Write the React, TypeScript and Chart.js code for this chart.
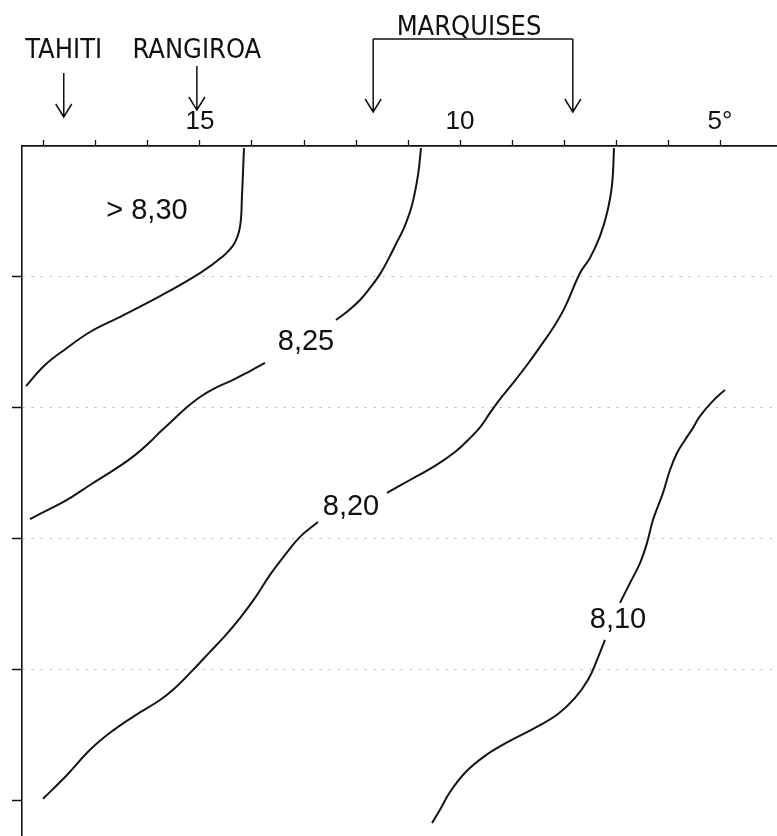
import React, { useEffect, useRef } from 'react';
import { Chart, registerables } from 'chart.js';

Chart.register(...registerables);

// ---- axis values ----
const xTickValues = [18, 17, 16, 15, 14, 13, 12, 11, 10, 9, 8, 7, 6, 5];
const xLabelValues = [15, 10, 5];
const xLabelText = ['15', '10', '5°'];
const yTickValues = [50, 100, 150, 200, 250];
const yGridValues = [50, 100, 150, 200];
const latMin = 3.904;
const latMax = 18.423;
const depthMax = 263.4;

// ---- contour 8.30 ----
const c830Lat = [14.154, 14.192, 14.231, 14.346, 14.577, 15.0, 15.769, 16.577, 17.115, 17.558, 17.981, 18.346];
const c830Depth = [0.8, 18.7, 30.9, 37.4, 42.4, 48.5, 57.3, 65.6, 71.0, 77.1, 83.6, 91.6];

// ---- contour 8.25 (two pieces around its label) ----
const c825aLat = [10.75, 10.808, 10.923, 11.077, 11.212, 11.365, 11.538, 11.731, 11.923, 12.154, 12.385];
const c825aDepth = [0.8, 11.1, 22.5, 31.3, 36.6, 42.7, 48.9, 54.2, 58.8, 63.0, 66.4];
const c825bLat = [13.75, 14.038, 14.365, 14.712, 15.0, 15.269, 15.519, 15.769, 15.962, 16.25, 16.596, 17.115, 17.558, 17.923, 18.269];
const c825bDepth = [82.8, 85.9, 89.3, 92.4, 95.8, 100.0, 104.6, 109.2, 113.0, 118.0, 122.9, 129.4, 135.1, 138.9, 142.4];

// ---- contour 8.20 ----
const c820aLat = [7.038, 7.077, 7.173, 7.308, 7.5, 7.692, 7.981, 8.212, 8.462, 8.712, 8.981, 9.231, 9.423, 9.596, 9.808, 10.096, 10.481, 10.962, 11.404];
const c820aDepth = [0.8, 14.9, 25.6, 34.4, 42.7, 48.5, 61.5, 69.5, 76.7, 83.6, 90.5, 96.6, 101.9, 106.9, 111.5, 116.8, 122.1, 127.5, 132.4];
const c820bLat = [12.731, 13.077, 13.365, 13.654, 13.942, 14.231, 14.519, 14.808, 15.135, 15.481, 15.769, 16.288, 16.731, 17.115, 17.558, 18.019];
const c820bDepth = [143.5, 149.2, 156.1, 163.7, 172.5, 180.2, 187.0, 193.1, 200.0, 206.9, 211.5, 217.9, 224.0, 230.5, 240.1, 249.2];

// ---- contour 8.10 ----
const c810aLat = [4.904, 5.135, 5.385, 5.519, 5.673, 5.827, 5.962, 6.096, 6.288, 6.404, 6.538, 6.731, 6.923];
const c810aDepth = [93.1, 97.3, 103.1, 107.6, 112.2, 117.2, 123.7, 132.4, 142.7, 151.5, 159.2, 166.8, 174.4];
const c810bLat = [7.212, 7.365, 7.538, 7.788, 8.115, 8.558, 9.077, 9.519, 9.885, 10.192, 10.385, 10.538];
const c810bDepth = [188.5, 196.2, 203.8, 210.7, 216.8, 222.1, 227.5, 232.8, 238.9, 246.6, 253.4, 258.4];

// ---- contour labels ----
const contourLabelText = ['> 8,30', '8,25', '8,20', '8,10'];
const contourLabelLat = [16.02, 12.962, 12.096, 6.962];
const contourLabelDepth = [24.8, 74.8, 137.8, 180.9];

// ---- island annotations ----
const islandNames = ['TAHITI', 'RANGIROA'];
const islandLat = [17.62, 15.06];
const marquisesName = 'MARQUISES';
const marquisesLat = [11.67, 7.83];

const FONT = '"Liberation Sans", Arial, Helvetica, sans-serif';
const NARROW = '"Liberation Sans Narrow", "Arial Narrow", "DejaVu Sans Condensed", sans-serif';

function zip(lat: number[], depth: number[]) {
  return lat.map((v, i) => ({ x: v, y: depth[i] }));
}

function arrowDown(ctx: CanvasRenderingContext2D, x: number, y0: number, y1: number) {
  ctx.beginPath();
  ctx.moveTo(x, y0);
  ctx.lineTo(x, y1);
  ctx.moveTo(x - 8, y1 - 13);
  ctx.lineTo(x, y1);
  ctx.lineTo(x + 8, y1 - 13);
  ctx.stroke();
}

const annotationPlugin = {
  id: 'pHAnnotations',
  afterDraw(chart: any) {
    const { ctx, chartArea, scales } = chart;
    const xs = scales.x;
    const ys = scales.y;
    const top = chartArea.top;
    ctx.save();
    // contour labels
    ctx.fillStyle = '#111';
    ctx.font = `29px ${FONT}`;
    ctx.textAlign = 'center';
    ctx.textBaseline = 'middle';
    contourLabelText.forEach((t, i) => {
      ctx.fillText(t, xs.getPixelForValue(contourLabelLat[i]), ys.getPixelForValue(contourLabelDepth[i]));
    });

    // island names + arrows
    ctx.font = `27px ${NARROW}`;
    ctx.textBaseline = 'alphabetic';
    ctx.strokeStyle = '#111';
    ctx.lineWidth = 1.5;
    islandNames.forEach((name, i) => {
      const px = xs.getPixelForValue(islandLat[i]);
      ctx.fillText(name, px, top - 88);
      arrowDown(ctx, px, top - (i === 0 ? 73 : 80), top - (i === 0 ? 29 : 36));
    });

    // Marquises bracket
    const mx0 = xs.getPixelForValue(marquisesLat[0]);
    const mx1 = xs.getPixelForValue(marquisesLat[1]);
    ctx.fillText(marquisesName, (mx0 + mx1) / 2 - 4, top - 111);
    ctx.beginPath();
    ctx.moveTo(mx0, top - 107);
    ctx.lineTo(mx1, top - 107);
    ctx.stroke();
    arrowDown(ctx, mx0, top - 107, top - 34);
    arrowDown(ctx, mx1, top - 107, top - 34);
    ctx.restore();
  },
};

export default function App() {
  const canvasRef = useRef<HTMLCanvasElement | null>(null);

  useEffect(() => {
    if (!canvasRef.current) return;
    const lineStyle = {
      showLine: true,
      borderColor: '#141414',
      borderWidth: 2,
      pointRadius: 0,
      pointHoverRadius: 0,
      tension: 0.4,
      fill: false,
    };
    const chart = new Chart(canvasRef.current, {
      type: 'scatter',
      data: {
        datasets: [
          { label: '8,30', data: zip(c830Lat, c830Depth), ...lineStyle },
          { label: '8,25', data: zip(c825aLat, c825aDepth), ...lineStyle },
          { label: '8,25', data: zip(c825bLat, c825bDepth), ...lineStyle },
          { label: '8,20', data: zip(c820aLat, c820aDepth), ...lineStyle },
          { label: '8,20', data: zip(c820bLat, c820bDepth), ...lineStyle },
          { label: '8,10', data: zip(c810aLat, c810aDepth), ...lineStyle },
          { label: '8,10', data: zip(c810bLat, c810bDepth), ...lineStyle },
        ],
      },
      options: {
        animation: false,
        responsive: true,
        maintainAspectRatio: false,
        layout: { padding: 0 },
        plugins: {
          legend: { display: false },
          tooltip: { enabled: false },
        },
        scales: {
          x: {
            type: 'linear',
            position: 'top',
            reverse: true,
            min: latMin,
            max: latMax,
            afterBuildTicks: (axis: any) => {
              axis.ticks = xTickValues.map((v) => ({ value: v }));
            },
            afterFit: (axis: any) => {
              axis.height = 146;
            },
            ticks: {
              autoSkip: false,
              maxRotation: 0,
              padding: 3,
              color: '#111',
              font: { family: FONT, size: 26 },
              callback: (v: any) => {
                const idx = xLabelValues.indexOf(Number(v));
                return idx >= 0 ? xLabelText[idx] : '';
              },
            },
            grid: {
              drawOnChartArea: false,
              drawTicks: true,
              tickLength: 6,
              tickColor: '#111',
              tickWidth: 1.3,
            },
            border: { display: true, color: '#111', width: 1.8 },
          },
          y: {
            type: 'linear',
            position: 'left',
            reverse: true,
            min: 0,
            max: depthMax,
            afterBuildTicks: (axis: any) => {
              axis.ticks = yTickValues.map((v) => ({ value: v }));
            },
            afterFit: (axis: any) => {
              axis.width = 22;
            },
            ticks: { display: false },
            grid: {
              drawOnChartArea: true,
              drawTicks: true,
              tickLength: 10,
              tickColor: '#111',
              tickWidth: 1.5,
              lineWidth: 1,
              color: (c: any) => (c.tick && yGridValues.includes(c.tick.value) ? '#b5b5b5' : 'rgba(0,0,0,0)'),
            },
            border: { display: true, color: '#111', width: 1.6, dash: [2, 7] },
          },
        },
      },
      plugins: [annotationPlugin],
    } as any);
    return () => chart.destroy();
  }, []);

  return (
    <div style={{ position: 'fixed', left: 0, top: 0, width: 777, height: 836, background: '#fff' }}>
      <canvas ref={canvasRef} />
    </div>
  );
}
